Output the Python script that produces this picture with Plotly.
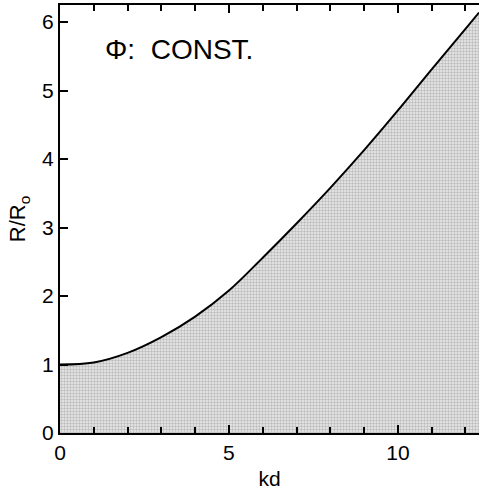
import plotly.graph_objects as go

kd = [0, 1, 2, 3, 4, 5, 6, 7, 8, 9, 10, 11, 12, 12.4]
r_ratio = [1.0, 1.03, 1.17, 1.40, 1.70, 2.08, 2.56, 3.06, 3.58, 4.13, 4.71, 5.31, 5.90, 6.14]

x_ticks = [0, 5, 10]
y_ticks = [0, 1, 2, 3, 4, 5, 6]

font_family = "Liberation Sans, Arial, sans-serif"

fig = go.Figure()
fig.add_trace(go.Scatter(
    x=kd, y=r_ratio, mode="lines",
    line=dict(color="black", width=2, shape="spline", smoothing=1.0),
    fill="tozeroy",
    fillcolor="rgba(210,210,210,1)",
    fillpattern=dict(shape=".", fgcolor="#8a8a8a", bgcolor="#ececec", size=3, solidity=0.5),
    showlegend=False, hoverinfo="skip",
))

fig.add_annotation(
    text="Φ:\u00a0\u00a0CONST.", x=0.103, y=0.895, xref="paper", yref="paper",
    xanchor="left", yanchor="middle", showarrow=False,
    font=dict(family=font_family, size=28, color="black"),
)

fig.update_layout(
    width=479, height=495,
    margin=dict(l=60, r=0, t=5, b=62, autoexpand=False),
    paper_bgcolor="white", plot_bgcolor="white",
    font=dict(family=font_family, color="black"),
)
fig.update_xaxes(
    range=[0, 12.4], tickvals=x_ticks, ticktext=[str(v) for v in x_ticks],
    ticks="inside", ticklen=8, tickwidth=1.5, tickcolor="black",
    minor=dict(dtick=1, ticks="inside", ticklen=6, tickwidth=1.5, tickcolor="black"),
    showline=True, linecolor="black", linewidth=2, mirror="allticks",
    showgrid=False, zeroline=False, automargin=False,
    tickfont=dict(size=21),
    title=dict(text="kd", font=dict(size=21), standoff=8),
)
fig.update_yaxes(
    range=[0, 6.25], tickvals=y_ticks, ticktext=[str(v) for v in y_ticks],
    ticks="inside", ticklen=8, tickwidth=1.5, tickcolor="black",
    showline=True, linecolor="black", linewidth=2, mirror=False,
    showgrid=False, zeroline=False, automargin=False,
    tickfont=dict(size=21),
    title=dict(text="R/R<sub>o</sub>", font=dict(size=22), standoff=10),
)

fig.write_html(
    "out.html",
    config={"displayModeBar": False},
    post_script="document.body.style.margin='0';document.body.style.overflow='hidden';",
)
